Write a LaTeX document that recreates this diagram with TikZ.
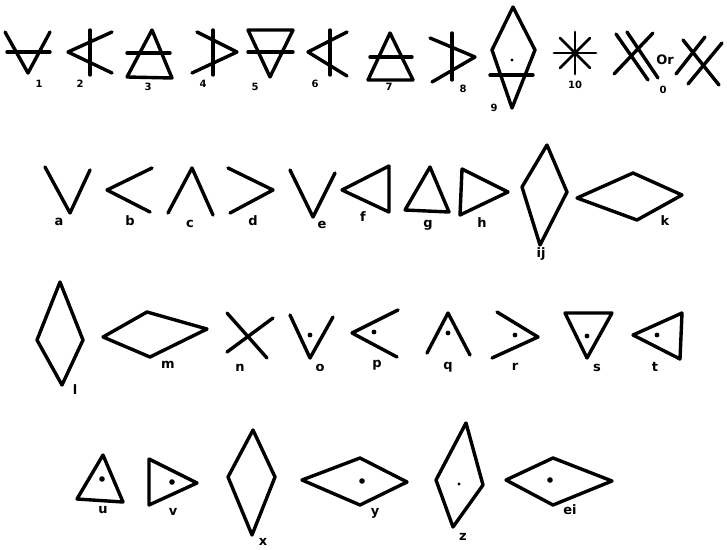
\documentclass[tikz,border=0pt]{standalone}
\usepackage{fontspec}
\setsansfont{DejaVu Sans}
\usepackage{tikz}
\usetikzlibrary{calc}

\begin{document}
\begin{tikzpicture}[x=1pt, y=-1pt,
    glyph/.style={line width=3.4pt, line join=round, line cap=round},
    lbl/.style={font=\sffamily\bfseries\fontsize{13}{13}\selectfont, inner sep=0pt},
    num/.style={font=\sffamily\bfseries\fontsize{10}{10}\selectfont, inner sep=0pt}]
    \useasboundingbox (0,0) rectangle (727,549);
    \newcommand{\spot}[2][2.4]{\fill #2 circle (#1);}

    % --- ROW 1: NUMBERED SIGNS ---
    \draw[glyph] (5,32) -- (28,73) -- (50,32);
    \draw[glyph] (7,52) -- (50,52);
    \node[num] (n1) at (39,84) {1};

    \draw[glyph] (112,32) -- (68,52) -- (112,73);
    \draw[glyph] (90,30) -- (90,75);
    \node[num] (n2) at (80,84) {2};

    \draw[glyph] (152,30) -- (127,77) -- (172,78) -- cycle;
    \draw[glyph] (127,53) -- (170,53);
    \node[num] (n3) at (148,87) {3};

    \draw[glyph] (197,32) -- (237,52) -- (192,73);
    \draw[glyph] (213,30) -- (213,75);
    \node[num] (n4) at (203,84) {4};

    \draw[glyph] (248,30) -- (293,30) -- (270,77) -- cycle;
    \draw[glyph] (248,52) -- (293,52);
    \node[num] (n5) at (255,87) {5};

    \draw[glyph] (347,32) -- (308,52) -- (347,76);
    \draw[glyph] (330,30) -- (330,75);
    \node[num] (n6) at (315,84) {6};

    \draw[glyph] (390,33) -- (368,80) -- (413,80) -- cycle;
    \draw[glyph] (370,57) -- (412,57);
    \node[num] (n7) at (389,87) {7};

    \draw[glyph] (430,38) -- (475,57) -- (432,82);
    \draw[glyph] (452,33) -- (452,80);
    \node[num] (n8) at (463,89) {8};

    \draw[glyph] (513,7) -- (492,50) -- (512,108) -- (535,50) -- cycle;
    \draw[glyph] (490,75) -- (533,75);
    \spot[1.6]{(512,60)}
    \node[num] (n9) at (494,108) {9};

    \foreach \a in {0,45,...,315}
        \draw[glyph, line width=2.8pt] (575,53) -- ++(\a:21);
    \node[num] (n10) at (575,85) {10};

    \draw[glyph] (616,34) -- (648,80);
    \draw[glyph] (627,32) -- (658,78);
    \draw[glyph] (653,33) -- (614,74);
    \node[lbl] (or) at (665,60) {Or};
    \draw[glyph] (683,40) -- (719,85);
    \draw[glyph] (705,37) -- (676,74);
    \draw[glyph] (722,43) -- (688,84);
    \node[num] (n0) at (663,90) {0};

    % --- ROW 2: a TO k ---
    \draw[glyph] (45,167) -- (70,213) -- (90,170);
    \node[lbl] (la) at (59,222) {a};
    \draw[glyph] (152,168) -- (107,190) -- (150,212);
    \node[lbl] (lb) at (130,221) {b};
    \draw[glyph] (168,213) -- (192,168) -- (213,215);
    \node[lbl] (lc) at (190,224) {c};
    \draw[glyph] (228,168) -- (273,190) -- (230,213);
    \node[lbl] (ld) at (253,221) {d};
    \draw[glyph] (290,170) -- (313,217) -- (335,173);
    \node[lbl] (le) at (322,225) {e};
    \draw[glyph] (342,190) -- (389,166) -- (389,212) -- cycle;
    \node[lbl] (lf) at (363,217) {f};
    \draw[glyph] (430,167) -- (405,210) -- (449,212) -- cycle;
    \node[lbl] (lg) at (428,225) {g};
    \draw[glyph] (462,169) -- (508,192) -- (460,215) -- cycle;
    \node[lbl] (lh) at (482,223) {h};
    \draw[glyph] (547,145) -- (522,187) -- (540,245) -- (567,192) -- cycle;
    \node[lbl] (lij) at (541,254) {ij};
    \draw[glyph] (577,198) -- (633,173) -- (682,195) -- (637,220) -- cycle;
    \node[lbl] (lk) at (665,221) {k};

    % --- ROW 3: l TO t ---
    \draw[glyph] (60,282) -- (37,340) -- (62,385) -- (83,340) -- cycle;
    \node[lbl] (ll) at (75,390) {l};
    \draw[glyph] (103,337) -- (147,312) -- (207,329) -- (150,357) -- cycle;
    \node[lbl] (lm) at (168,365) {m};
    \draw[glyph] (227,313) -- (267,358);
    \draw[glyph] (273,318) -- (227,352);
    \node[lbl] (ln) at (240,368) {n};
    \draw[glyph] (290,315) -- (310,358) -- (333,317);
    \spot{(310,335)}
    \node[lbl] (lo) at (320,368) {o};
    \draw[glyph] (398,310) -- (352,333) -- (397,357);
    \spot{(374,332)}
    \node[lbl] (lp) at (377,365) {p};
    \draw[glyph] (427,353) -- (448,313) -- (470,355);
    \spot{(448,333)}
    \node[lbl] (lq) at (448,367) {q};
    \draw[glyph] (497,312) -- (538,337) -- (492,358);
    \spot{(515,335)}
    \node[lbl] (lr) at (515,367) {r};
    \draw[glyph] (565,313) -- (612,313) -- (587,358) -- cycle;
    \spot{(587,336)}
    \node[lbl] (ls) at (597,368) {s};
    \draw[glyph] (633,335) -- (682,313) -- (680,359) -- cycle;
    \spot{(657,335)}
    \node[lbl] (lt) at (655,367) {t};

    % --- ROW 4: u TO ei ---
    \draw[glyph] (103,455) -- (77,499) -- (123,502) -- cycle;
    \spot[2.8]{(102,479)}
    \node[lbl] (lu) at (103,510) {u};
    \draw[glyph] (149,459) -- (197,483) -- (149,505) -- cycle;
    \spot[2.8]{(172,482)}
    \node[lbl] (lv) at (173,512) {v};
    \draw[glyph] (253,430) -- (228,477) -- (252,535) -- (275,477) -- cycle;
    \node[lbl] (lx) at (263,542) {x};
    \draw[glyph] (302,480) -- (360,458) -- (407,482) -- (360,505) -- cycle;
    \spot[2.8]{(362,481)}
    \node[lbl] (ly) at (375,513) {y};
    \draw[glyph] (466,423) -- (436,480) -- (453,527) -- (483,485) -- cycle;
    \spot[1.6]{(459,484)}
    \node[lbl] (lz) at (463,537) {z};
    \draw[glyph] (506,480) -- (553,458) -- (612,481) -- (553,505) -- cycle;
    \spot[2.8]{(550,480)}
    \node[lbl] (lei) at (570,510) {ei};
\end{tikzpicture}
\end{document}
